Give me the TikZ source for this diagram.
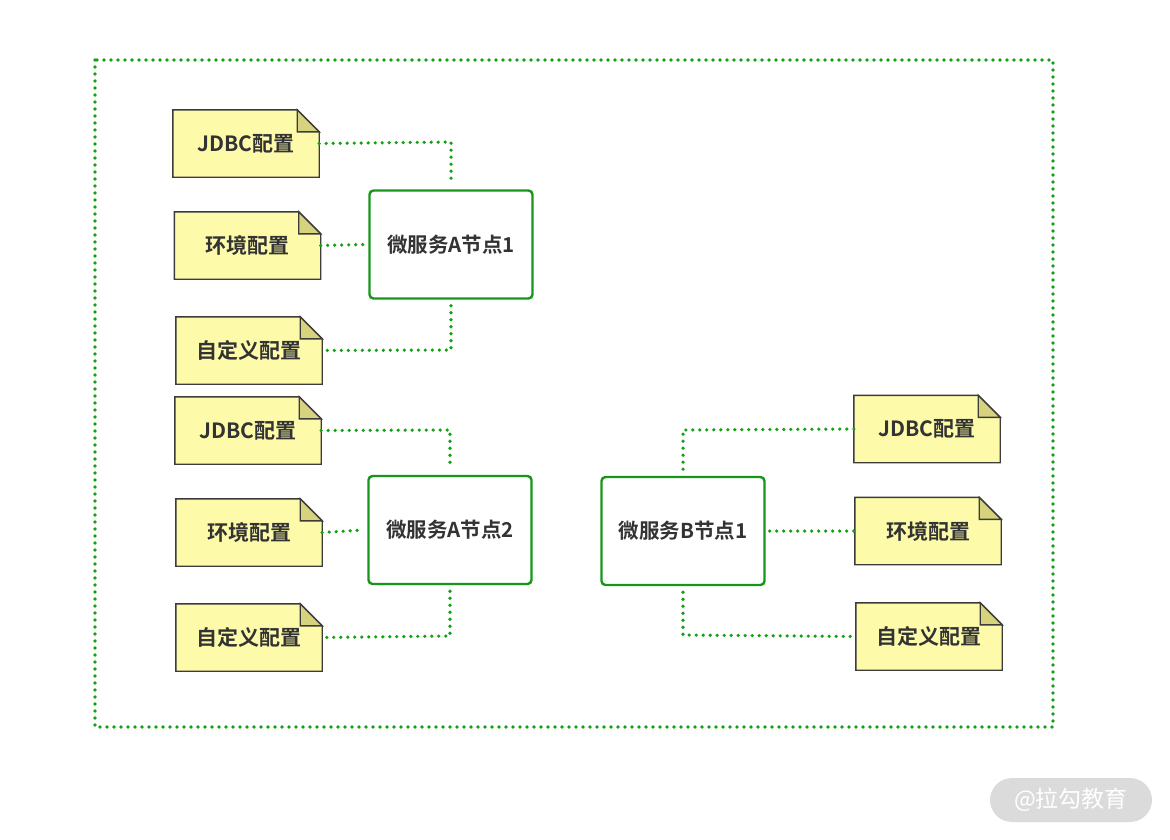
\documentclass[tikz,border=0pt]{standalone}
\usepackage{fontspec}
\setmainfont{Noto Sans CJK SC}
\newfontfamily\cjkb{Noto Sans CJK SC Bold}
\usetikzlibrary{backgrounds}
\definecolor{gline}{HTML}{14A014}
\definecolor{gbox}{HTML}{17961A}
\definecolor{notefill}{HTML}{FDFBAA}
\definecolor{foldfill}{HTML}{D6D27E}
\definecolor{noteline}{HTML}{3C3C3C}
\definecolor{txt}{HTML}{333333}
\tikzset{
  note/.style={minimum width=146pt, minimum height=67pt, inner sep=0pt, text=txt, font=\cjkb\fontsize{21}{24}\selectfont},
  notebody/.style={draw=noteline, line width=1.4pt, fill=notefill, line join=miter},
  foldpart/.style={draw=noteline, line width=1.4pt, fill=foldfill, line join=miter},
  svc/.style={draw=gbox, line width=2.4pt, rounded corners=4pt, fill=white, minimum width=163pt, minimum height=108pt, inner sep=0pt, text=txt, font=\cjkb\fontsize{20.5}{24}\selectfont},
  dotline/.style={draw=gline, line width=3.6pt, line cap=round, dash pattern=on 0pt off 7pt},
}
\begin{document}
\begin{tikzpicture}[x=1pt,y=-1pt]
\useasboundingbox (0,0) rectangle (1170,839);
% outer frame
\draw[dotline] (95,60) rectangle (1053,727);

% notes
\node[note] (j1) at (246,143.5) {JDBC配置};
\node[note] (e1) at (247.5,245.5) {环境配置};
\node[note] (c1) at (249,350.5) {自定义配置};
\node[note] (j2) at (248,430.5) {JDBC配置};
\node[note] (e2) at (249,532.5) {环境配置};
\node[note] (c2) at (249,637.5) {自定义配置};
\node[note] (j3) at (927,429) {JDBC配置};
\node[note] (e3) at (928,531) {环境配置};
\node[note] (c3) at (929,636.5) {自定义配置};

\begin{scope}[on background layer]
\foreach \n in {j1,e1,c1,j2,e2,c2,j3,e3,c3}{
  \draw[notebody] (\n.north west) -- ([xshift=-22pt]\n.north east) -- ([yshift=-22pt]\n.north east) -- (\n.south east) -- (\n.south west) -- cycle;
  \draw[foldpart] ([xshift=-22pt]\n.north east) -- ([xshift=-22pt,yshift=-22pt]\n.north east) -- ([yshift=-22pt]\n.north east) -- cycle;
}
\end{scope}

% service boxes
\node[svc] (a1) at (451,244.5) {微服务A节点1};
\node[svc] (a2) at (450,530) {微服务A节点2};
\node[svc] (b1) at (683,531) {微服务B节点1};

% connectors A1
\draw[dotline] (j1.east) -- (451,142) -- ([yshift=6pt]a1.north);
\draw[dotline] (e1.east) -- ([xshift=-4pt]a1.west);
\draw[dotline] ([yshift=-6pt]a1.south) -- (451,350) -- (c1.east);
% connectors A2
\draw[dotline] (j2.east) -- (450,430) -- ([yshift=6pt]a2.north);
\draw[dotline] (e2.east) -- ([xshift=-4pt]a2.west);
\draw[dotline] ([yshift=-6pt]a2.south) -- (450,636) -- (c2.east);
% connectors B1
\draw[dotline] (j3.west) -- (683,430) -- ([yshift=6pt]b1.north);
\draw[dotline] ([xshift=4pt]b1.east) -- (e3.west);
\draw[dotline] ([yshift=-6pt]b1.south) -- (683,635) -- (c3.west);

% watermark
\node[fill=black!14, text=white, rounded corners=22pt, minimum width=162pt, minimum height=44pt, inner sep=0pt, font=\fontsize{23}{26}\selectfont] (wm) at (1071,800) {@拉勾教育};
\end{tikzpicture}
\end{document}
